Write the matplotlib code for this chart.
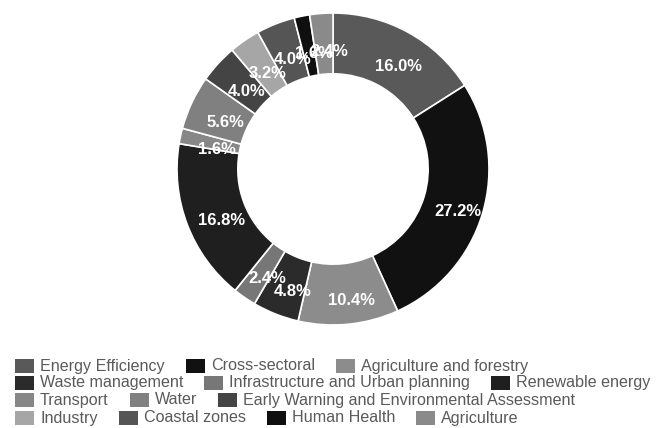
import numpy as np
import matplotlib.pyplot as plt
from matplotlib.transforms import offset_copy

plt.rcParams['font.family'] = ['Liberation Sans', 'DejaVu Sans']

categories = [
    "Energy Efficiency", "Cross-sectoral", "Agriculture and forestry",
    "Waste management", "Infrastructure and Urban planning", "Renewable energy",
    "Transport", "Water", "Early Warning and Environmental Assessment",
    "Industry", "Coastal zones", "Human Health", "Agriculture",
]
shares = [16.0, 27.2, 10.4, 4.8, 2.4, 16.8, 1.6, 5.6, 4.0, 3.2, 4.0, 1.6, 2.4]
colors = [
    "#595959", "#111111", "#8c8c8c", "#2b2b2b", "#777777", "#1f1f1f",
    "#878787", "#808080", "#444444", "#a6a6a6", "#555555", "#0f0f0f", "#8a8a8a",
]

W, H = 657, 428
fig = plt.figure(figsize=(W / 100, H / 100), dpi=100)

cx, cy, r = 333, 169, 156
ax = fig.add_axes([(cx - r) / W, (H - cy - r) / H, 2 * r / W, 2 * r / H])
wedges, _ = ax.pie(
    shares, colors=colors, startangle=90, counterclock=False, radius=1.0,
    wedgeprops=dict(width=0.39, edgecolor="white", linewidth=1.2),
)

# percentage labels sit in the ring, nudged slightly right and down
label_tr = offset_copy(ax.transData, fig=fig, x=4, y=-5, units="points")
for w, v in zip(wedges, shares):
    ang = np.deg2rad((w.theta1 + w.theta2) / 2)
    rr = 0.8
    ax.text(rr * np.cos(ang), rr * np.sin(ang), f"{v:.1f}%",
            ha="center", va="center", color="white", transform=label_tr,
            fontsize=12, fontweight="bold")

ax.set_xlim(-1, 1)
ax.set_ylim(-1, 1)
ax.set_aspect("equal")
ax.axis("off")

# Legend laid out in rows below the ring
rows = [[0, 1, 2], [3, 4, 5], [6, 7, 8], [9, 10, 11, 12]]
row_y = [366, 383, 400, 418]
fig.canvas.draw()
renderer = fig.canvas.get_renderer()
for row, yy in zip(rows, row_y):
    x = 15
    for i in row:
        fig.patches.append(plt.Rectangle((x / W, 1 - (yy + 7) / H), 19 / W, 14 / H,
                                         transform=fig.transFigure, figure=fig,
                                         facecolor=colors[i], edgecolor="none"))
        t = fig.text((x + 25) / W, 1 - yy / H, categories[i], ha="left",
                     va="center", fontsize=11.6, color="#5a5a5a")
        bb = t.get_window_extent(renderer=renderer)
        x = x + 25 + bb.width + 21

fig.savefig("out.png", dpi=100)
